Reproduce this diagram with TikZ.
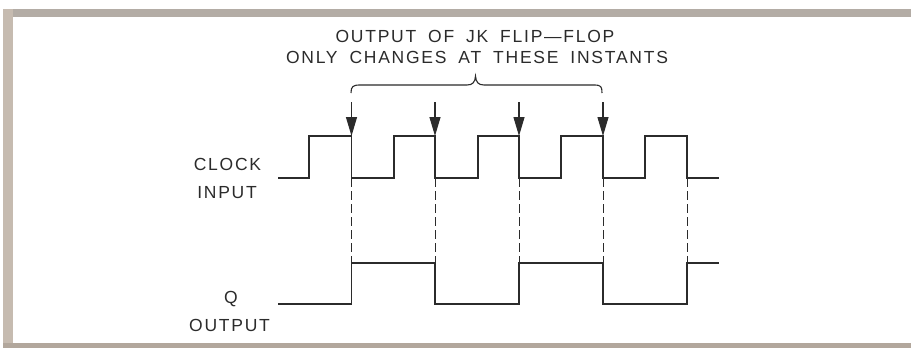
\documentclass[tikz,border=0pt]{standalone}
\usepackage{fontspec}
\setmainfont{Liberation Sans}
\newfontfamily\labfont[LetterSpace=10,WordSpace=1.8]{Liberation Sans}
\usetikzlibrary{arrows.meta}
\definecolor{ink}{HTML}{2B2B2B}
\definecolor{bandtop}{HTML}{B3ACA5}
\definecolor{bandleft}{HTML}{C6BBB0}
\definecolor{bandbot}{HTML}{B2A79C}
\tikzset{
  wave/.style={draw=ink, line width=1.3pt, line join=miter},
  guide/.style={draw=ink, line width=0.9pt, dash pattern=on 9pt off 4pt},
  marker/.style={draw=ink, line width=1.1pt, -{Triangle[length=19pt,width=11pt]}},
  brace/.style={draw=ink, line width=1.1pt},
  lab/.style={text=ink, inner sep=0pt, font=\labfont\fontsize{17.5}{20}\selectfont, align=center}
}
\begin{document}
\begin{tikzpicture}[x=1pt,y=-1pt]
\useasboundingbox (0,0) rectangle (911,348);
\fill[white] (0,0) rectangle (911,348);
% frame bands
\fill[bandtop] (3,9) rectangle (911,17);
\fill[bandleft] (3,9) rectangle (13,348);
\fill[bandbot] (3,343) rectangle (911,348);

% title
\node[lab] (t1) at (475,36.5) {OUTPUT OF JK FLIP—FLOP};
\node[lab] (t2) at (477,57.5) {ONLY CHANGES AT THESE INSTANTS};

% brace
\draw[brace] (351,93) .. controls (351,86.5) and (353,85) .. (360,85) -- (467,85)
  .. controls (473,85) and (475,82) .. (475.5,76)
  .. controls (476,82) and (478,85) .. (484,85) -- (594,85)
  .. controls (601,85) and (602,86.5) .. (602,93);

% labels
\node[lab] (clk) at (227.5,164) {CLOCK};
\node[lab] (inp) at (227,193) {INPUT};
\node[lab] (q) at (231,299) {Q};
\node[lab] (out) at (229.5,325) {OUTPUT};

% clock waveform
\draw[wave] (278,178) -- (309,178) -- (309,136) -- (351.5,136) -- (351.5,178)
  -- (394,178) -- (394,136) -- (435,136) -- (435,178)
  -- (478,178) -- (478,136) -- (519,136) -- (519,178)
  -- (561,178) -- (561,136) -- (603,136) -- (603,178)
  -- (645,178) -- (645,136) -- (687,136) -- (687,178) -- (719,178);

% Q waveform
\draw[wave] (278,304) -- (351.5,304) -- (351.5,263) -- (435,263) -- (435,304)
  -- (519,304) -- (519,263) -- (603,263) -- (603,304)
  -- (687,304) -- (687,263) -- (719,263);

% named instants
\foreach \n/\x in {a/351.5,b/435,c/519,d/603,e/687}{
  \coordinate (top\n) at (\x,102);
  \coordinate (edge\n) at (\x,136);
  \coordinate (low\n) at (\x,178);
  \coordinate (qhi\n) at (\x,263);
}
% arrows
\foreach \n in {a,b,c,d}{
  \draw[marker] (top\n) -- (edge\n);
}
% dashed guides
\foreach \n in {a,b,c,d,e}{
  \draw[guide] (low\n) -- (qhi\n);
}
\end{tikzpicture}
\end{document}
